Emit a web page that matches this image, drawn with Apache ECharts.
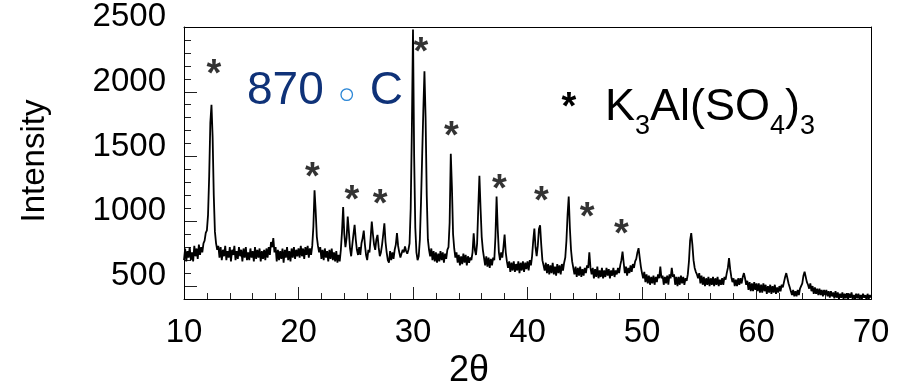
<!DOCTYPE html>
<html>
<head>
<meta charset="utf-8">
<script src="https://cdn.jsdelivr.net/npm/echarts@6/dist/echarts.min.js"></script>
<style>
html,body{margin:0;padding:0;background:#fff;}
#chart{width:907px;height:390px;}
</style>
</head>
<body>
<div id="chart"></div>
<script>
const stepDeg = 0.1;
const segStarts = [10, 20, 30, 40, 50, 60];
const int10to20 = [700,790,690,770,720,800,700,760,690,810,730,790,710,820,740,800,760,830,850,910,
  930,1050,1350,1760,1900,1650,1200,920,830,780,810,720,800,700,780,730,810,700,770,720,
  800,690,780,740,810,700,770,710,800,730,780,690,790,720,800,700,760,700,790,720,
  770,690,800,710,780,720,790,690,770,710,780,700,790,720,800,740,840,800,870,760,
  800,690,780,700,770,710,790,680,780,720,800,700,770,690,790,720,800,710,780,730];
const int20to30 = [790,720,810,730,790,710,800,740,810,720,790,740,810,960,1240,1080,880,810,760,800,
  710,780,700,790,720,770,690,780,710,790,700,760,690,770,680,740,690,780,920,1110,
  900,800,870,1036,920,790,730,820,900,972,860,780,740,800,740,830,870,928,820,740,
  700,780,760,870,998,900,820,780,860,895,800,730,760,820,900,985,840,760,700,680,
  770,700,760,710,780,820,908,810,760,720,730,780,760,805,770,750,780,830,1100,1700];
const int30to40 = [2480,1500,950,760,700,730,860,1150,1500,1850,2158,1800,1200,860,780,730,790,700,770,690,
  760,680,750,690,770,700,760,680,750,710,780,800,990,1521,1260,900,790,720,760,680,
  740,660,730,670,750,680,740,660,730,680,720,700,760,908,780,740,830,1100,1351,1100,
  880,780,720,660,730,650,720,640,710,660,720,700,880,1191,940,760,700,760,720,800,
  898,760,690,640,690,610,680,620,690,610,670,620,690,600,680,620,690,610,680,630];
const int40to50 = [690,620,700,660,730,850,943,800,730,810,940,969,820,700,660,620,680,600,670,590,
  660,600,680,590,650,580,670,600,660,590,670,620,680,720,850,1050,1191,950,780,690,
  640,590,650,570,640,580,650,570,630,580,640,600,660,640,761,640,590,640,560,630,
  570,650,560,620,570,640,560,620,570,640,580,630,560,620,580,640,570,620,590,640,
  600,660,700,766,680,600,650,580,640,600,660,610,670,640,690,710,760,792,720,650];
const int50to60 = [600,560,610,530,590,520,580,510,570,520,580,510,570,530,590,560,650,560,580,510,
  570,520,580,510,590,560,640,570,590,510,570,500,570,510,580,520,570,510,560,540,
  590,690,850,908,820,700,640,610,590,560,600,520,580,510,570,500,560,510,570,500,
  560,510,570,500,560,510,570,500,550,510,560,510,570,550,600,640,715,630,570,530,
  560,500,550,500,560,510,560,520,570,600,560,510,540,470,530,460,520,460,530,470];
const int60to70 = [520,460,520,450,510,450,520,460,510,440,500,450,510,440,500,450,510,440,490,450,
  500,460,510,490,530,570,600,560,520,490,460,430,470,420,460,420,470,430,480,470,
  520,580,611,570,530,510,480,520,460,500,440,490,440,480,430,480,430,470,420,470,
  430,470,420,460,410,460,420,450,405,460,410,450,400,440,410,450,400,440,405,445,
  400,440,410,450,400,430,400,440,405,440,400,430,400,440,410,430,395,440,400,430,410];
const segments = [int10to20, int20to30, int30to40, int40to50, int50to60, int60to70];

// K3Al(SO4)3 reflection markers (asterisks)
const starTheta = [12.62, 21.22, 24.67, 27.14, 30.70, 33.35, 37.55, 41.22, 45.22, 48.20];
const starInt   = [2194, 1397, 1222, 1191, 2364, 1720, 1307, 1217, 1088, 959];

// axis ticks
const xLabels = [10, 20, 30, 40, 50, 60, 70];
const xMinorTicks = [12, 14, 16, 18, 22, 24, 26, 28, 32, 34, 36, 38, 42, 44, 46, 48, 52, 54, 56, 58, 62, 64, 66, 68];
const yLabels = [500, 1000, 1500, 2000, 2500];
const yMinorTicks = [600, 700, 800, 900, 1100, 1200, 1300, 1400, 1600, 1700, 1800, 1900, 2100, 2200, 2300, 2400];

const pattern = [];
segments.forEach((seg, s) => {
  seg.forEach((v, i) => {
    pattern.push([+(segStarts[s] + i * stepDeg).toFixed(1), v]);
  });
});
const stars = starTheta.map((t, i) => [t, starInt[i]]);

const FONT = 'Liberation Sans, Arial, sans-serif';
const TICK = '#222';
const chart = echarts.init(document.getElementById('chart'), null, {renderer: 'canvas'});
chart.setOption({
  animation: false,
  backgroundColor: '#fff',
  grid: {left: 184, right: 36, top: 27, bottom: 91, show: false},
  xAxis: [{
    type: 'value', min: 10, max: 70, position: 'bottom', offset: 0,
    axisLine: {show: true, lineStyle: {color: '#000', width: 1}},
    axisTick: {show: true, inside: true, length: 12, customValues: xLabels, lineStyle: {color: TICK, width: 1}},
    splitLine: {show: false},
    axisLabel: {show: true, customValues: xLabels, fontSize: 33, fontFamily: FONT, color: '#000', margin: 17}
  }, {
    type: 'value', min: 10, max: 70, position: 'bottom', offset: 0,
    axisLine: {show: false}, axisLabel: {show: false}, splitLine: {show: false},
    axisTick: {show: true, inside: true, length: 6, customValues: xMinorTicks, lineStyle: {color: TICK, width: 1}}
  }, {
    type: 'value', min: 10, max: 70, position: 'top', offset: 0,
    axisLine: {show: true, lineStyle: {color: '#000', width: 1}},
    axisTick: {show: false}, axisLabel: {show: false}, splitLine: {show: false}
  }],
  yAxis: [{
    type: 'value', min: 400, max: 2500, position: 'left', offset: 0,
    axisLine: {show: true, lineStyle: {color: '#000', width: 1}},
    axisTick: {show: true, inside: true, length: 13, customValues: yLabels, lineStyle: {color: TICK, width: 1}},
    splitLine: {show: false},
    axisLabel: {show: true, customValues: yLabels, fontSize: 33, fontFamily: FONT, color: '#000', margin: 18,
      lineHeight: 20, formatter: v => String(v) + '\n'}
  }, {
    type: 'value', min: 400, max: 2500, position: 'left', offset: 0,
    axisLine: {show: false}, axisLabel: {show: false}, splitLine: {show: false},
    axisTick: {show: true, inside: true, length: 7, customValues: yMinorTicks, lineStyle: {color: TICK, width: 1}}
  }, {
    type: 'value', min: 400, max: 2500, position: 'right', offset: 0,
    axisLine: {show: true, lineStyle: {color: '#000', width: 1}},
    axisTick: {show: false}, axisLabel: {show: false}, splitLine: {show: false}
  }],
  series: [{
    type: 'line', data: pattern, symbol: 'none', showSymbol: false, silent: true,
    lineStyle: {color: '#000', width: 1.8}, itemStyle: {color: '#000'}, clip: true, z: 2
  }, {
    type: 'scatter', data: stars, symbolSize: 1, silent: true,
    itemStyle: {color: 'rgba(0,0,0,0)'},
    label: {show: true, formatter: '*', position: 'inside', fontSize: 38, fontWeight: 'bold', fontFamily: FONT, color: '#000', offset: [0, 9]},
    z: 3
  }]
});

// plot frame derived from the axis scales, plus text annotations
const pTL = chart.convertToPixel({xAxisIndex: 0, yAxisIndex: 0}, [10, 2500]);
const pBR = chart.convertToPixel({xAxisIndex: 0, yAxisIndex: 0}, [70, 400]);
chart.setOption({
  graphic: [{
    type: 'rect', silent: true, z: 1,
    shape: {x: Math.round(pTL[0]) + 0.5, y: Math.round(pTL[1]) + 0.5, width: Math.round(pBR[0] - pTL[0]), height: Math.round(pBR[1] - pTL[1])},
    style: {fill: 'none', stroke: '#000', lineWidth: 1}
  }, {
    type: 'text', x: 469, y: 353,
    style: {text: '2θ', fontSize: 36, fontFamily: FONT, fill: '#000', align: 'center', verticalAlign: 'top'}
  }, {
    type: 'text', x: 35, y: 161, rotation: Math.PI / 2,
    style: {text: 'Intensity', fontSize: 33, fontFamily: FONT, fill: '#000', align: 'center', verticalAlign: 'middle'}
  }, {
    type: 'text', x: 247, y: 68,
    style: {
      text: '{n|870}{d|◦}{n|C}', align: 'left', verticalAlign: 'top',
      rich: {
        n: {fontSize: 46, lineHeight: 46, fontFamily: FONT, fill: '#0f3278', verticalAlign: 'top'},
        d: {fontSize: 44, lineHeight: 42, padding: [10, 0, 0, 0], width: 46, align: 'center', fontFamily: 'DejaVu Sans', fill: '#2a86d6', verticalAlign: 'top'}
      }
    }
  }, {
    type: 'text', x: 569, y: 109,
    style: {text: '*', fontSize: 38, fontWeight: 'bold', fontFamily: FONT, fill: '#000', align: 'center', verticalAlign: 'middle'}
  }, {
    type: 'text', x: 605, y: 85,
    style: {
      text: '{m|K}{s|3}{m|Al(SO}{s|4}{m|)}{s|3}', align: 'left', verticalAlign: 'top',
      rich: {
        m: {fontSize: 45, lineHeight: 45, fontFamily: FONT, fill: '#000', verticalAlign: 'top'},
        s: {fontSize: 27, lineHeight: 27, padding: [28, 0, 0, 0], fontFamily: FONT, fill: '#000', verticalAlign: 'top'}
      }
    }
  }]
});
</script>
</body>
</html>
